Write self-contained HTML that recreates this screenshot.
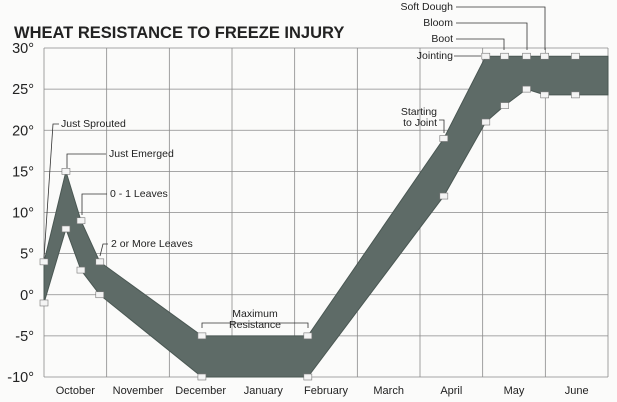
<!DOCTYPE html>
<html><head><meta charset="utf-8"><style>
body{margin:0;background:#fff;}
svg{display:block;font-family:"Liberation Sans",Arial,sans-serif;}
</style></head><body>
<svg id="chart" width="617" height="402" viewBox="0 0 617 402">
<rect x="0" y="0" width="617" height="402" fill="#fbfbfa"/>
<text x="14" y="38" font-size="16.5" font-weight="bold" fill="#222">WHEAT RESISTANCE TO FREEZE INJURY</text>
<g id="grid"></g>
<g id="band"></g>
<g id="anno"></g>
<g id="axes"></g>
</svg>
<script>
const months = ["October","November","December","January","February","March","April","May","June"];
const yTicks = [30,25,20,15,10,5,0,-5,-10];
const xPos = [0,0.35,0.59,0.89,2.52,4.21,6.38,7.05,7.35,7.7,7.99,8.48,9];
const upper = [4,15,9,4,-5,-5,19,29,29,29,29,29,29];
const lower = [-1,8,3,0,-10,-10,12,21,23,25,24.3,24.3,24.3];
const markU = [0,1,2,3,4,5,6,7,8,9,10,11];
const markL = [0,1,2,3,4,5,6,7,8,9,10,11];

const X0=44, X1=608, Y0=48, Y1=377;
const xs = t => X0 + (X1-X0)*t/9;
const ys = v => Y0 + (30-v)*(Y1-Y0)/40;
const NS="http://www.w3.org/2000/svg";
function mk(tag, attrs, parent, txt){const e=document.createElementNS(NS,tag);for(const k in attrs)e.setAttribute(k,attrs[k]);if(txt!==undefined)e.textContent=txt;parent.appendChild(e);return e;}

const grid=document.getElementById('grid');
yTicks.forEach(v=>{
  const l=mk('line',{x1:X0,x2:X1,y1:ys(v),y2:ys(v),stroke:'#8a8a8a','stroke-width':0.8},grid);
  
  
});
for(let i=0;i<=9;i++){
  const l=mk('line',{x1:xs(i),x2:xs(i),y1:Y0,y2:Y1,stroke:'#8a8a8a','stroke-width':0.8},grid);
  
  
}

const axes=document.getElementById('axes');
yTicks.forEach(v=>{
  const t=mk('text',{x:34,y:ys(v)+5,'font-size':14.5,'text-anchor':'end',fill:'#222'},axes,v+'°');
  
  
});
months.forEach((m,i)=>{
  const t=mk('text',{x:xs(i+0.5),y:394,'font-size':11,'text-anchor':'middle',fill:'#222'},axes,m);
  
  
});

const band=document.getElementById('band');
let pts=xPos.map((t,i)=>xs(t)+','+ys(upper[i]));
for(let i=xPos.length-1;i>=0;i--)pts.push(xs(xPos[i])+','+ys(lower[i]));
const poly=mk('polygon',{points:pts.join(' '),fill:'#5e6b67',stroke:'#4a5753','stroke-width':1},band);


markU.forEach(i=>{
  const r=mk('rect',{x:xs(xPos[i])-4,y:ys(upper[i])-3,width:8,height:6,fill:'#f4f4f4',stroke:'#777','stroke-width':0.6},band);
  
  
});
markL.forEach(i=>{
  const r=mk('rect',{x:xs(xPos[i])-4,y:ys(lower[i])-3,width:8,height:6,fill:'#f4f4f4',stroke:'#777','stroke-width':0.6},band);
  
  
});

const anno=document.getElementById('anno');
function label(txt,tx,ty,path,anchor,name){
  const p=mk('polyline',{points:path,fill:'none',stroke:'#333','stroke-width':0.8},anno);
  
  
  const lines=txt.split('\n');
  lines.forEach((s,k)=>{
    const t=mk('text',{x:tx,y:ty+k*11,'font-size':10.5,fill:'#222','text-anchor':anchor||'start'},anno,s);
    
    
  });
}
label('Just Sprouted',61,127,'44,258 53,124 59,124','start','just-sprouted');
label('Just Emerged',109,157,'67,168 67,154 106,154','start','just-emerged');
label('0 - 1 Leaves',110,197,'82,215 82,194 107,194','start','zero-one-leaves');
label('2 or More Leaves',111,247,'100,256 103,244 108,244','start','two-more-leaves');
label('Starting\nto Joint',437,115,'444,133 444,120 439,120','end','starting-to-joint');
label('Jointing',453,59,'454,56 481,56','end','jointing');
label('Boot',453,42,'456,39 504,39 504,50','end','boot');
label('Bloom',453,26,'456,23 527,23 527,50','end','bloom');
label('Soft Dough',453,10,'456,7 545,7 545,50','end','soft-dough');
label('Maximum\nResistance',255,317,'202,328 202,323 308,323 308,328','middle','maximum-resistance');
</script>
</body></html>
